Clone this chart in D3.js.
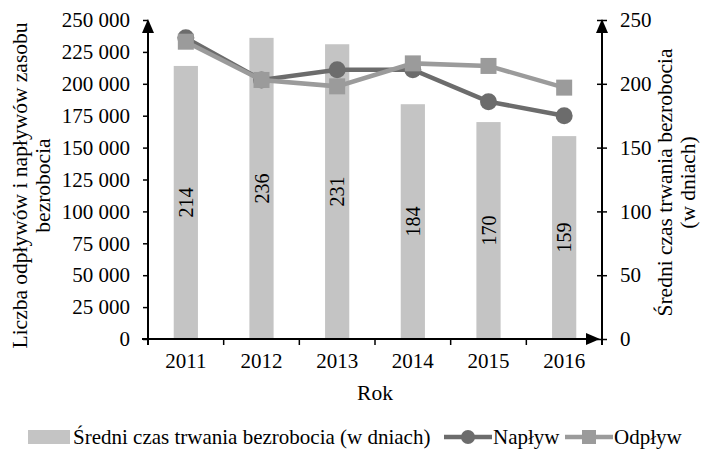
<!DOCTYPE html>
<html><head><meta charset="utf-8">
<script src="https://cdn.jsdelivr.net/npm/d3@7"></script>
<style>
body{margin:0;background:#fff;}
svg{display:block;font-family:"Liberation Serif","Times New Roman",serif;}
</style></head>
<body><svg id="c" width="708" height="460"></svg>
<script>
const years = ["2011","2012","2013","2014","2015","2016"];
const duration = [214, 236, 231, 184, 170, 159];
const inflow = [236000, 203000, 211000, 211000, 186000, 175000];
const outflow = [233000, 203000, 198000, 216000, 214000, 197000];
const leftTicks = [0,25000,50000,75000,100000,125000,150000,175000,200000,225000,250000];
const rightTicks = [0,50,100,150,200,250];

const svg = d3.select("#c");
const L = 148, R = 602, T = 20, B = 339;
const fs = 21;
const x = d3.scaleBand().domain(years).range([L, R]).padding(0);
const yL = d3.scaleLinear().domain([0, 250000]).range([B, T]);
const yR = d3.scaleLinear().domain([0, 250]).range([B, T]);
const fmt = v => d3.format(",")(v).replace(/,/g, " ");

const cInflow = "#6c6c6c", cOutflow = "#9b9b9b", cBar = "#c4c4c4";

// bars
const bw = x.bandwidth() * 0.32;
svg.append("g").selectAll("rect").data(years).join("rect")
  .attr("x", (d) => x(d) + x.bandwidth()/2 - bw/2)
  .attr("width", bw)
  .attr("y", (d,i) => yR(duration[i]))
  .attr("height", (d,i) => B - yR(duration[i]))
  .attr("fill", cBar);

// bar labels
svg.append("g").selectAll("text").data(years).join("text")
  .attr("transform", (d,i) => `translate(${x(d)+x.bandwidth()/2},${(yR(duration[i])+B)/2}) rotate(-90)`)
  .attr("text-anchor","middle").attr("dy","0.35em")
  .attr("font-size", 20).attr("fill","#000")
  .text((d,i) => duration[i]);

// axes
const axL = svg.append("g").attr("transform",`translate(${L},0)`)
  .call(d3.axisLeft(yL).tickValues(leftTicks).tickFormat(fmt).tickSize(5).tickPadding(13));
const axR = svg.append("g").attr("transform",`translate(${R},0)`)
  .call(d3.axisRight(yR).tickValues(rightTicks).tickSize(5).tickPadding(13));
const axX = svg.append("g").attr("transform",`translate(0,${B})`)
  .call(d3.axisBottom(x).tickSize(0).tickPadding(14));
[axL, axR, axX].forEach(a => {
  a.select(".domain").remove();
  a.selectAll("text").attr("font-size", fs).attr("fill","#000").attr("font-family","Liberation Serif");
  a.selectAll("line").attr("stroke","#000").attr("stroke-width",1.5);
});
axR.selectAll(".tick line").attr("x1",-5).attr("x2",5);
// x ticks at band boundaries
const bounds = years.map(d => x(d)).concat([R]);
svg.append("g").selectAll("line").data(bounds).join("line")
  .attr("x1", d=>d).attr("x2", d=>d).attr("y1", B).attr("y2", B+6)
  .attr("stroke","#000").attr("stroke-width",1.5);

// axis lines with arrows
const ax = svg.append("g").attr("stroke","#000").attr("stroke-width",2);
ax.append("line").attr("x1",L).attr("x2",L).attr("y1",B+6).attr("y2",T+10);
ax.append("line").attr("x1",R).attr("x2",R).attr("y1",B+6).attr("y2",T+10);
ax.append("line").attr("x1",L-6).attr("x2",R-12).attr("y1",B).attr("y2",B);
const arr = svg.append("g").attr("fill","#000");
arr.append("path").attr("d",`M${L},${T-1} L${L-6},${T+13} L${L+6},${T+13} Z`);
arr.append("path").attr("d",`M${R},${T-1} L${R-6},${T+13} L${R+6},${T+13} Z`);
arr.append("path").attr("d",`M${R-2},${B} L${R-16},${B-6} L${R-16},${B+6} Z`);

// lines
const line = d3.line().x((d,i)=>x(years[i])+x.bandwidth()/2).y(d=>yL(d));
svg.append("path").datum(inflow).attr("d", line).attr("fill","none")
  .attr("stroke", cInflow).attr("stroke-width",4.5);
svg.append("g").selectAll("circle").data(inflow).join("circle")
  .attr("cx",(d,i)=>x(years[i])+x.bandwidth()/2).attr("cy",d=>yL(d)).attr("r",8.5)
  .attr("fill", cInflow);
svg.append("path").datum(outflow).attr("d", line).attr("fill","none")
  .attr("stroke", cOutflow).attr("stroke-width",4.5);
svg.append("g").selectAll("rect").data(outflow).join("rect")
  .attr("x",(d,i)=>x(years[i])+x.bandwidth()/2-8).attr("y",d=>yL(d)-8)
  .attr("width",16).attr("height",16).attr("fill", cOutflow);

// axis titles
const tfs = 21.5;
svg.append("text").attr("transform",`translate(27,${(T+B)/2+6}) rotate(-90)`)
  .attr("text-anchor","middle").attr("font-size",tfs).text("Liczba odpływów i napływów zasobu");
svg.append("text").attr("transform",`translate(50,${(T+B)/2+6}) rotate(-90)`)
  .attr("text-anchor","middle").attr("font-size",tfs).text("bezrobocia");
svg.append("text").attr("transform",`translate(672,${(T+B)/2+3}) rotate(-90)`)
  .attr("text-anchor","middle").attr("font-size",tfs).text("Średni czas trwania bezrobocia");
svg.append("text").attr("transform",`translate(695,${(T+B)/2+3}) rotate(-90)`)
  .attr("text-anchor","middle").attr("font-size",tfs).text("(w dniach)");
svg.append("text").attr("x",(L+R)/2).attr("y",400).attr("text-anchor","middle")
  .attr("font-size",tfs).text("Rok");

// legend
const ly = 444;
const lfs = 21;
const lg = svg.append("g");
lg.append("rect").attr("x",28).attr("y",ly-14).attr("width",42).attr("height",14).attr("fill",cBar);
lg.append("text").attr("x",73).attr("y",ly).attr("font-size",lfs).text("Średni czas trwania bezrobocia (w dniach)");
lg.append("line").attr("x1",444).attr("x2",492).attr("y1",ly-7).attr("y2",ly-7).attr("stroke",cInflow).attr("stroke-width",4.5);
lg.append("circle").attr("cx",468).attr("cy",ly-7).attr("r",7).attr("fill",cInflow);
lg.append("text").attr("x",493).attr("y",ly).attr("font-size",lfs).text("Napływ");
lg.append("line").attr("x1",565).attr("x2",613).attr("y1",ly-7).attr("y2",ly-7).attr("stroke",cOutflow).attr("stroke-width",4.5);
lg.append("rect").attr("x",582).attr("y",ly-14).attr("width",14).attr("height",14).attr("fill",cOutflow);
lg.append("text").attr("x",614).attr("y",ly).attr("font-size",lfs).text("Odpływ");
</script></body></html>
